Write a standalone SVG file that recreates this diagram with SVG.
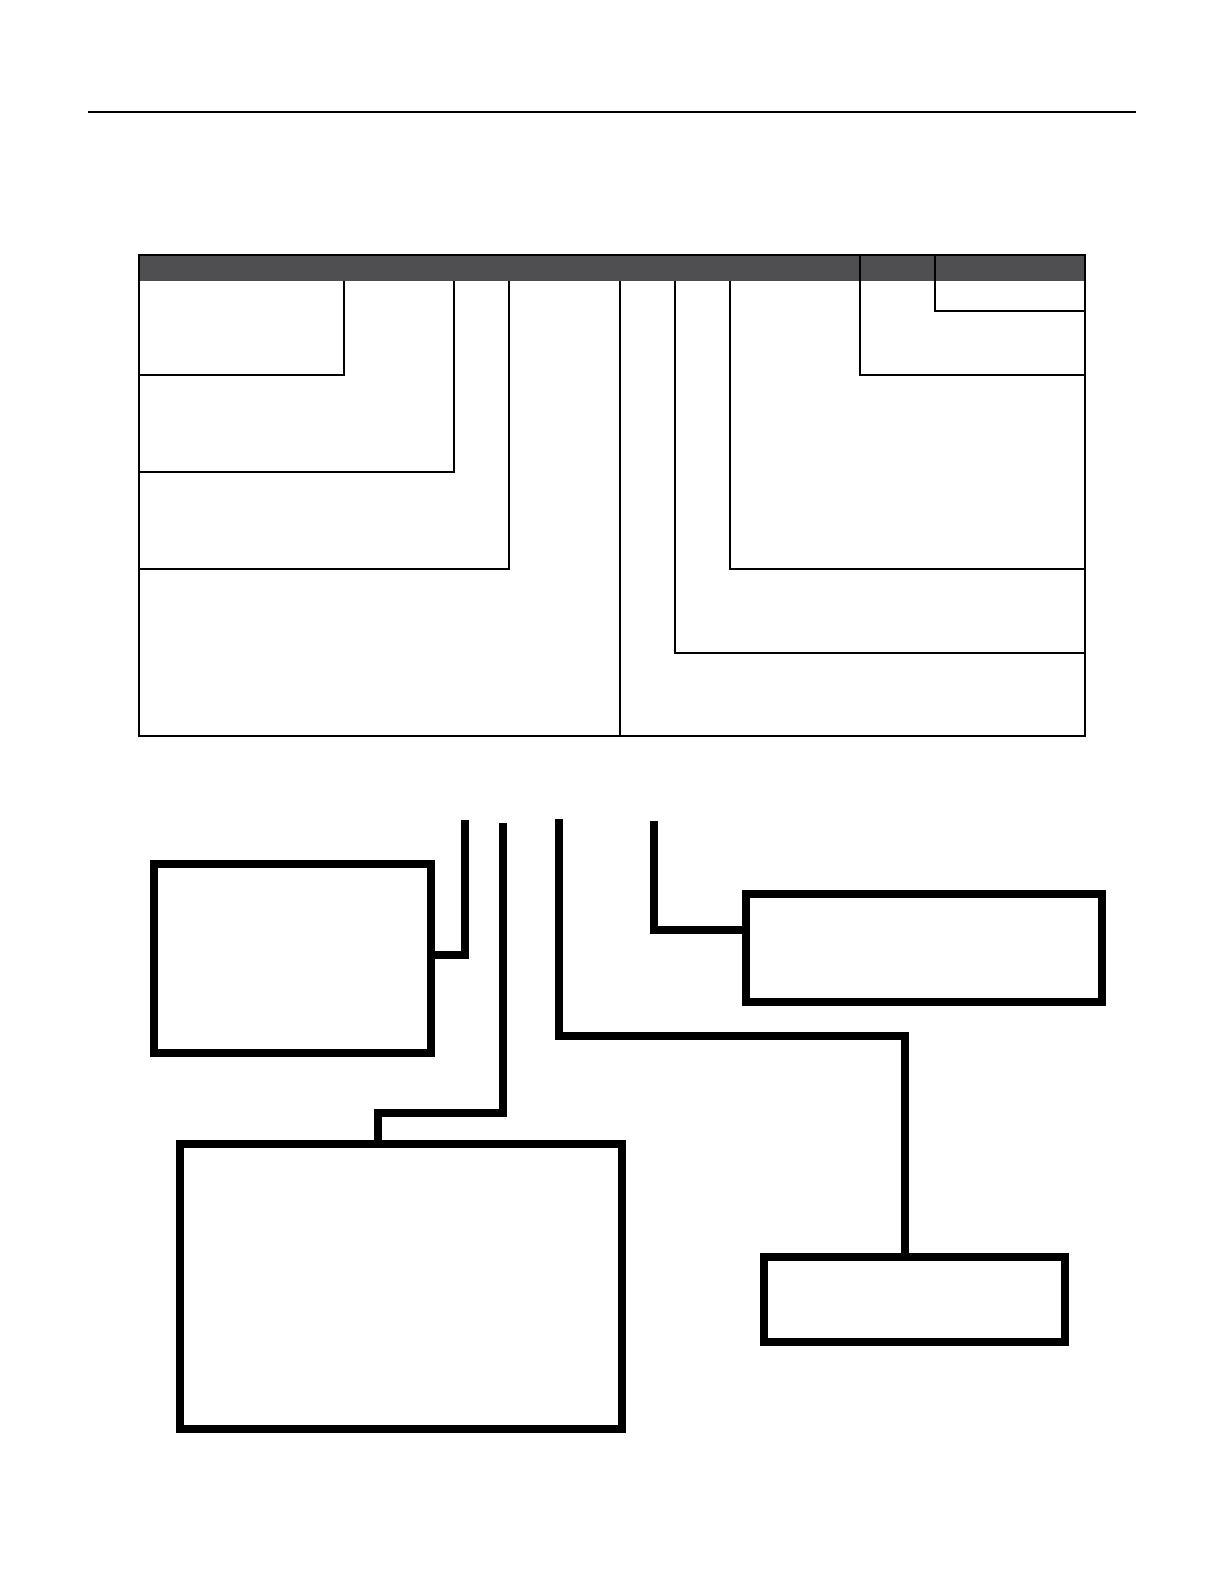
<svg xmlns="http://www.w3.org/2000/svg" width="1224" height="1584" viewBox="0 0 1224 1584">
<style>
.thin{stroke:#000;stroke-width:2;fill:none}
.thick{stroke:#000;stroke-width:8;fill:none}
.box{stroke:#000;stroke-width:8;fill:#fff}
.hdr{fill:#4f4f51}
</style>
<rect x="0" y="0" width="1224" height="1584" fill="#fff"/>
<line class="thin" x1="88" y1="112" x2="1136" y2="112"/>
<g id="table">
<rect class="hdr" x="139" y="255" width="946" height="26"/>
<rect class="thin" x="139" y="255" width="946" height="481"/>
<path class="thin" d="M344 281V375H139"/>
<path class="thin" d="M454 281V472H139"/>
<path class="thin" d="M509 281V569H139"/>
<path class="thin" d="M620 281V736"/>
<path class="thin" d="M675 281V653H1085"/>
<path class="thin" d="M730 281V569H1085"/>
<path class="thin" d="M860 255V375H1085"/>
<path class="thin" d="M935 255V311H1085"/>
</g>
<g id="connectors">
<path class="thick" d="M430 955H465V820"/>
<path class="thick" d="M378 1144V1113H503V823"/>
<path class="thick" d="M559 819V1036H905V1257"/>
<path class="thick" d="M654 821V930H742"/>
</g>
<g id="node1"><rect class="box" x="154" y="864" width="277" height="189"/></g>
<g id="node2"><rect class="box" x="746" y="894" width="356" height="108"/></g>
<g id="node3"><rect class="box" x="180" y="1144" width="442" height="285"/></g>
<g id="node4"><rect class="box" x="764" y="1257" width="301" height="85"/></g>
</svg>
